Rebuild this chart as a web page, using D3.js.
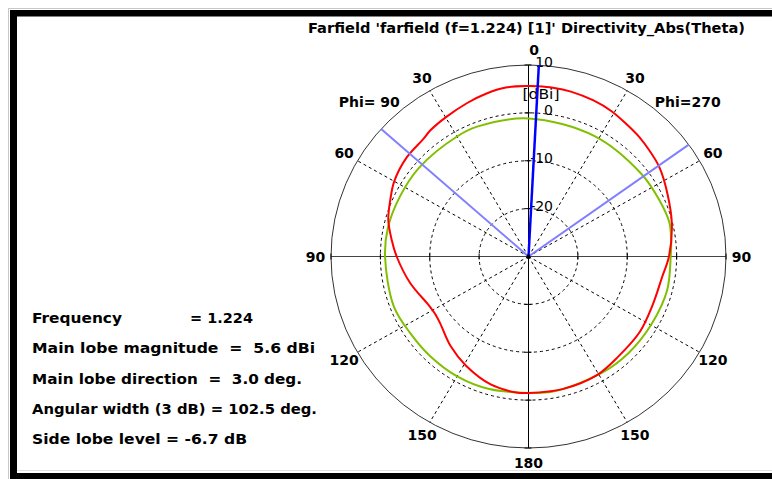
<!DOCTYPE html>
<html>
<head>
<meta charset="utf-8">
<script src="https://cdn.jsdelivr.net/npm/d3@7"></script>
<style>
  html, body { margin: 0; padding: 0; background: #fff; }
  svg { display: block; }
  text { font-family: "DejaVu Sans", sans-serif; }
</style>
</head>
<body>
<svg width="772" height="479"></svg>
<script>
// theta in degrees: negative = Phi=90 half (left), positive = Phi=270 half (right)
const redTheta = [-180,-175,-164,-151,-140,-128,-122,-117,-103,-90,-83,-75,-67,-60,-50,-41,-37,-30,-21,-14,-7,
                  0,3,8,14,22,29,36,42,48,55,65,77,90,99,112,125,139,151,166,180];
const redDb    = [-1.5,-1.5,-2.2,-3.9,-5.5,-7.3,-7.6,-7.4,-5.4,-3.3,-2.1,-0.6,0.4,1.4,2.2,2.5,3.0,3.55,4.4,5.1,5.6,
                  5.6,5.6,5.6,5.5,5.15,4.7,4.0,3.55,3.0,2.4,1.05,-0.2,-1.55,-2.6,-2.9,-2.5,-2.3,-1.6,-1.45,-1.5];

const greenTheta = [-180,-164,-150,-136,-124,-111,-90,-78,-64,-50,-30,-21,0,
                    28,53,66,76,83,90,104,119,135,148,169,180];
const greenDb    = [-1.5,-1.2,-1.1,-1.2,-1.2,-0.8,-0.95,-0.9,-1.1,-1.1,-1.05,-0.95,-1.15,
                    -1.5,-1.35,-1.0,-0.6,-0.9,-1.2,-1.05,-1.35,-1.4,-1.5,-1.4,-1.5];

const mainLobeDir = 3.0;
const beamEdges = [-48.25, 54.25];

const ringDb = [-20, -10, 0];
const outerDb = 10;
const radialLabels = ["-20", "-10", "0", "10"];
const radialValues = [-20, -10, 0, 10];
const spokeAngles = [-150, -120, -60, -30, 30, 60, 120, 150];
const angleTicks = [0, 30, 60, 90, 120, 150, 180];

const infoLines = [
  { text: "Main lobe magnitude  =  5.6 dBi", len: 283 },
  { text: "Main lobe direction  =  3.0 deg.", len: 270 },
  { text: "Angular width (3 dB) = 102.5 deg.", len: 285 },
  { text: "Side lobe level = -6.7 dB", len: 215 }
];

const svg = d3.select("svg");
const cx = 528.5, cy = 256.5;

const rx = d3.scaleLinear().domain([-30, 10]).range([0, 197.5]);
const ry = d3.scaleLinear().domain([-30, 10]).range([0, 191.5]);
const rad = d => d * Math.PI / 180;
const px = (t, v) => cx + rx(v) * Math.sin(rad(t));
const py = (t, v) => cy - ry(v) * Math.cos(rad(t));

// frame
svg.append("line").attr("x1", 8).attr("x2", 772).attr("y1", 8.5).attr("y2", 8.5).attr("stroke", "#c8c8c8");
svg.append("line").attr("x1", 8.5).attr("x2", 8.5).attr("y1", 8).attr("y2", 479).attr("stroke", "#c8c8c8");
svg.append("rect").attr("x", 10).attr("y", 10).attr("width", 762).attr("height", 6.5).attr("fill", "#000");
svg.append("rect").attr("x", 10).attr("y", 10).attr("width", 7).attr("height", 469).attr("fill", "#000");
svg.append("line").attr("x1", 17).attr("x2", 772).attr("y1", 470.5).attr("y2", 470.5).attr("stroke", "#e0e0d8");
svg.append("rect").attr("x", 10).attr("y", 473).attr("width", 762).attr("height", 6).attr("fill", "#000");

const g = svg.append("g");

// dashed rings
g.selectAll("ellipse.ring")
  .data(ringDb)
  .enter().append("ellipse")
    .attr("class", "ring")
    .attr("cx", cx).attr("cy", cy)
    .attr("rx", d => rx(d)).attr("ry", d => ry(d))
    .attr("fill", "none").attr("stroke", "#000")
    .attr("stroke-dasharray", "3,3");

// spokes
g.selectAll("line.spoke")
  .data(spokeAngles)
  .enter().append("line")
    .attr("class", "spoke")
    .attr("x1", cx).attr("y1", cy)
    .attr("x2", d => px(d, outerDb)).attr("y2", d => py(d, outerDb))
    .attr("stroke", "#000").attr("stroke-dasharray", "3,3");

// outer circle
g.append("ellipse")
  .attr("cx", cx).attr("cy", cy)
  .attr("rx", rx(outerDb)).attr("ry", ry(outerDb))
  .attr("fill", "none").attr("stroke", "#333");

// axes
g.append("line")
  .attr("x1", px(-90, outerDb)).attr("x2", px(90, outerDb))
  .attr("y1", cy).attr("y2", cy).attr("stroke", "#444");
g.append("line")
  .attr("x1", cx).attr("x2", cx)
  .attr("y1", py(0, outerDb)).attr("y2", py(180, outerDb)).attr("stroke", "#000");

// axis ticks at rings
ringDb.concat([outerDb]).forEach(v => {
  [-90, 90].forEach(t => {
    g.append("line").attr("x1", px(t, v)).attr("x2", px(t, v))
      .attr("y1", cy - 3).attr("y2", cy + 3).attr("stroke", "#000");
  });
  [0, 180].forEach(t => {
    g.append("line").attr("x1", cx - 4).attr("x2", cx + 3)
      .attr("y1", py(t, v)).attr("y2", py(t, v)).attr("stroke", "#000");
  });
});

// angle labels
const lf = 1.078;
const angleLab = [];
angleTicks.forEach(a => {
  angleLab.push({ t: -a, a });
  if (a !== 0 && a !== 180) angleLab.push({ t: a, a });
});
g.selectAll("text.ang")
  .data(angleLab)
  .enter().append("text")
    .attr("class", "ang")
    .attr("x", d => cx + rx(outerDb) * lf * Math.sin(rad(d.t)) + (d.a === 0 ? 5.5 : 0))
    .attr("y", d => cy - ry(outerDb) * lf * Math.cos(rad(d.t)))
    .attr("dy", "0.36em")
    .attr("text-anchor", "middle")
    .attr("font-size", 14).attr("font-weight", "bold")
    .text(d => d.a);

// phi labels
const pf = 1.14;
g.append("text")
  .attr("x", cx - rx(outerDb) * pf * Math.sin(rad(45)))
  .attr("y", cy - ry(outerDb) * pf * Math.cos(rad(45)))
  .attr("dy", "0.36em").attr("text-anchor", "middle")
  .attr("font-size", 14).attr("font-weight", "bold")
  .style("white-space", "pre")
  .text("Phi= 90");
g.append("text")
  .attr("x", cx + rx(outerDb) * pf * Math.sin(rad(45)))
  .attr("y", cy - ry(outerDb) * pf * Math.cos(rad(45)))
  .attr("dy", "0.36em").attr("text-anchor", "middle")
  .attr("font-size", 14).attr("font-weight", "bold")
  .text("Phi=270");

// radial labels
g.selectAll("text.rlab")
  .data(radialValues)
  .enter().append("text")
    .attr("class", "rlab")
    .attr("x", cx + 24.5)
    .attr("y", d => py(0, d) + 2)
    .attr("text-anchor", "end")
    .attr("font-family", "Liberation Sans, Arial, sans-serif")
    .attr("font-size", 14)
    .text((d, i) => radialLabels[i]);
g.append("text")
  .attr("x", cx + 12.5).attr("y", 99)
  .attr("text-anchor", "middle")
  .attr("font-family", "Liberation Sans, Arial, sans-serif")
  .attr("font-size", 14)
  .attr("textLength", 37).attr("lengthAdjust", "spacingAndGlyphs")
  .text("[dBi]");

// curves
const line = d3.line()
  .x(d => px(d[0], d[1]))
  .y(d => py(d[0], d[1]))
  .curve(d3.curveCatmullRom);

g.append("path")
  .datum(greenTheta.map((t, i) => [t, greenDb[i]]))
  .attr("d", line)
  .attr("fill", "none").attr("stroke", "#80c000").attr("stroke-width", 2);

g.append("path")
  .datum(redTheta.map((t, i) => [t, redDb[i]]))
  .attr("d", line)
  .attr("fill", "none").attr("stroke", "#ff0000").attr("stroke-width", 2);

// beam width lines
g.selectAll("line.beam")
  .data(beamEdges)
  .enter().append("line")
    .attr("class", "beam")
    .attr("x1", cx).attr("y1", cy)
    .attr("x2", d => px(d, outerDb)).attr("y2", d => py(d, outerDb))
    .attr("stroke", "#8080ff").attr("stroke-width", 2);

// main lobe direction
g.append("line")
  .attr("x1", cx).attr("y1", cy)
  .attr("x2", px(mainLobeDir, outerDb)).attr("y2", py(mainLobeDir, outerDb))
  .attr("stroke", "#0000ff").attr("stroke-width", 2.5);

g.append("circle").attr("cx", cx).attr("cy", cy).attr("r", 2).attr("fill", "#000");

// title
svg.append("text")
  .attr("x", 308).attr("y", 33)
  .attr("font-size", 14).attr("font-weight", "bold")
  .attr("textLength", 437).attr("lengthAdjust", "spacingAndGlyphs")
  .text("Farfield 'farfield (f=1.224) [1]' Directivity_Abs(Theta)");

// info text
svg.append("text")
  .attr("x", 32).attr("y", 323)
  .attr("font-size", 14).attr("font-weight", "bold")
  .attr("textLength", 90).attr("lengthAdjust", "spacingAndGlyphs")
  .text("Frequency");
svg.append("text")
  .attr("x", 190).attr("y", 323)
  .attr("font-size", 14).attr("font-weight", "bold")
  .attr("textLength", 63).attr("lengthAdjust", "spacingAndGlyphs")
  .text("= 1.224");

svg.selectAll("text.info")
  .data(infoLines)
  .enter().append("text")
    .attr("class", "info")
    .attr("x", 32)
    .attr("y", (d, i) => 353.3 + i * 30.3)
    .attr("font-size", 14).attr("font-weight", "bold")
    .style("white-space", "pre")
    .attr("textLength", d => d.len).attr("lengthAdjust", "spacingAndGlyphs")
    .text(d => d.text);
</script>
</body>
</html>
